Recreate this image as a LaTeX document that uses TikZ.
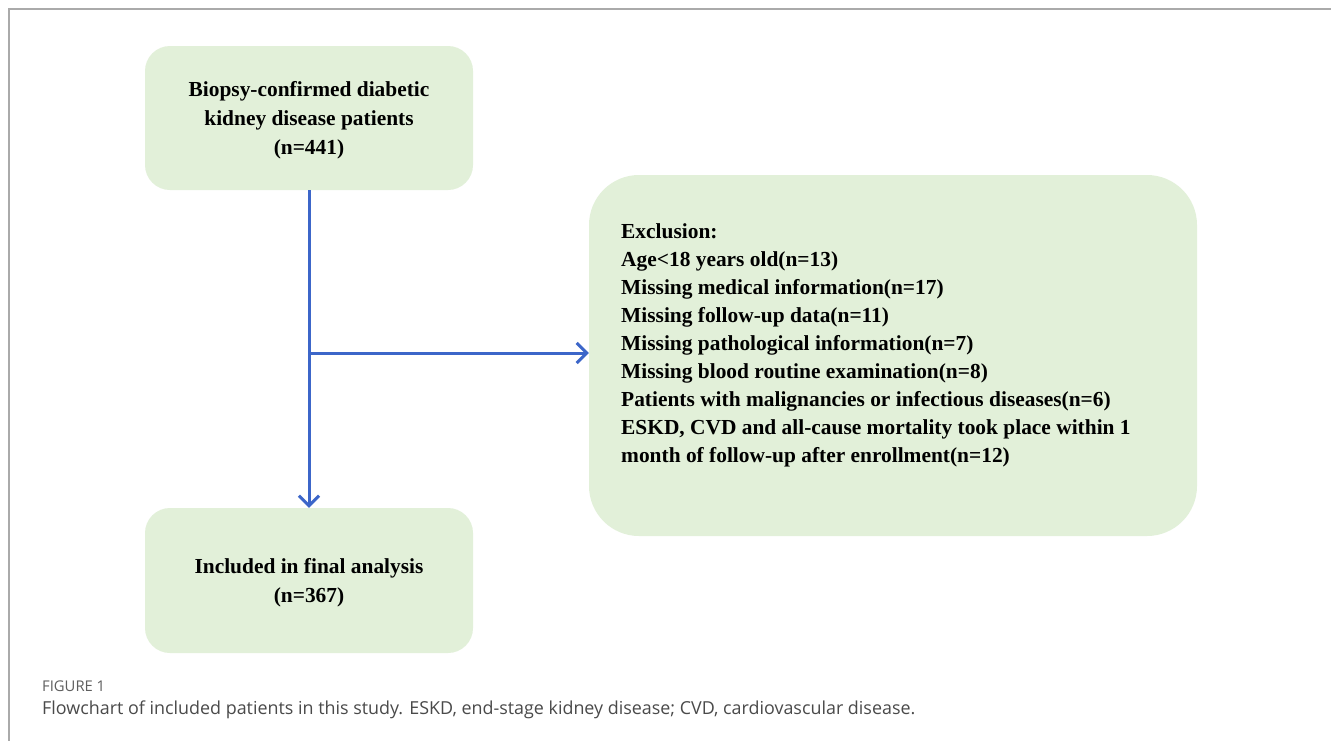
\documentclass[tikz,border=0pt]{standalone}
\usepackage{fontspec}
\setmainfont{Liberation Serif}
\newfontfamily\capfont{Open Sans}
\usetikzlibrary{arrows.meta,calc}
\definecolor{boxgreen}{HTML}{E2F0D9}
\definecolor{arrowblue}{HTML}{3C66C9}
\definecolor{framegray}{HTML}{AAAAAA}
\definecolor{capgray}{HTML}{5E5E5E}
\definecolor{captext}{HTML}{4A4A4A}
\begin{document}
\begin{tikzpicture}[x=1pt,y=-1pt,
  flowbox/.style={fill=boxgreen, draw=none, rounded corners=25pt, inner sep=0pt},
  flowtext/.style={align=center, font=\bfseries\fontsize{21.4}{29}\selectfont, inner sep=0pt},
  flowarrow/.style={draw=arrowblue, line width=3pt,
    -{Straight Barb[length=10pt,width=20pt,line width=3pt]}},
  boxtext/.style={font=\bfseries\fontsize{21.4}{28}\selectfont, align=left, inner sep=0pt}]
\useasboundingbox (0,0) rectangle (1331,740);
\fill[white] (0,0) rectangle (1331,740);
\draw[framegray, line width=1.5pt] (1331,9) -- (9,9) -- (9,741);

\node[flowbox, minimum width=328pt, minimum height=144pt] (top) at (309,118) {};
\node[flowtext] (toptext) at ($(top.center)+(0,2.5)$)
  {Biopsy-confirmed diabetic\\kidney disease patients\\(n=441)};
\node[flowbox, minimum width=328pt, minimum height=145pt] (bottom) at (309,580.5) {};
\node[flowtext] (bottomtext) at ($(bottom.center)+(0,2.5)$)
  {Included in final analysis\\(n=367)};
\node[fill=boxgreen, draw=none, rounded corners=50pt, minimum width=608pt,
  minimum height=361pt, inner sep=0pt] (excl) at (893,355.5) {};
\node[boxtext, anchor=north west] (excltext) at (621,223)
  {Exclusion:\\
   Age<18 years old(n=13)\\
   Missing medical information(n=17)\\
   Missing follow-up data(n=11)\\
   Missing pathological information(n=7)\\
   Missing blood routine examination(n=8)\\
   Patients with malignancies or infectious diseases(n=6)\\
   ESKD, CVD and all-cause mortality took place within 1\\
   month of follow-up after enrollment(n=12)};

\coordinate (branch) at (top.south |- 0,353);
\draw[flowarrow] (top.south) -- (bottom.north);
\draw[flowarrow] (branch) -- (excl.west |- branch);

\node[anchor=base west, inner sep=0pt, text=capgray,
  font=\capfont\fontsize{14.8}{17}\selectfont] (figlabel) at (42,691) {FIGURE 1};
\node[anchor=base west, inner sep=0pt, text=captext,
  font=\capfont\fontsize{17.9}{21}\selectfont] (caption) at (42,714)
  {Flowchart of included patients in this study. ESKD, end-stage kidney disease; CVD, cardiovascular disease.};
\end{tikzpicture}
\end{document}
